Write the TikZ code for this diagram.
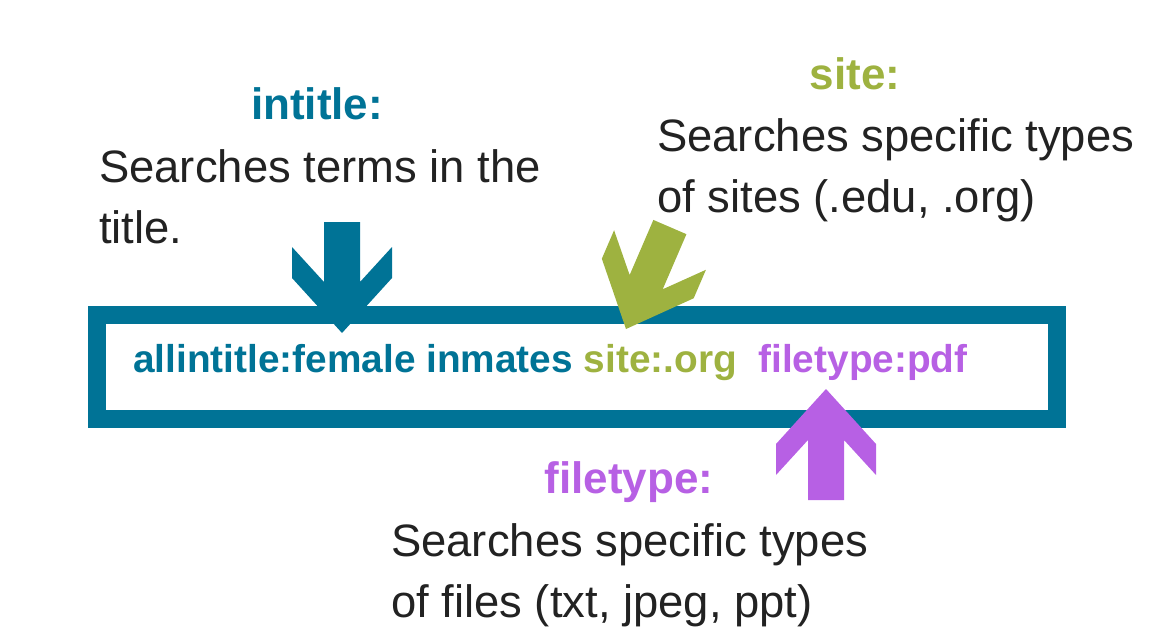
\documentclass[tikz,border=0pt]{standalone}
\usepackage{fontspec}
\setmainfont{Liberation Sans}
\usepackage{tikz}
\usetikzlibrary{
  positioning
}
\definecolor{srchblue}{RGB}{0,115,150}
\definecolor{srchgreen}{RGB}{158,178,64}
\definecolor{srchpurple}{RGB}{183,96,228}
\definecolor{srchgray}{RGB}{34,34,34}
\tikzset{
  opLabel/.style={
    font=\fontsize{44}{53}\selectfont\bfseries,
    inner sep=0pt,
    anchor=base
  },
  opDesc/.style={
    font=\fontsize{45.4}{54}\selectfont,
    text=srchgray,
    inner sep=0pt,
    anchor=base west
  },
  queryText/.style={
    font=\fontsize{38.8}{47}\selectfont\bfseries,
    inner sep=0pt,
    anchor=base west
  },
  queryBox/.style={
    draw=srchblue,
    line width=18pt,
    minimum width=960pt,
    minimum height=103.5pt,
    inner sep=0pt
  },
  blockArrow/.pic={
    \fill[pic actions] (-18,-111) -- (18,-111) -- (18,-51) -- (50,-86)
      -- (50,-55) -- (0,0) -- (-50,-55) -- (-50,-86) -- (-18,-51) -- cycle;
  }
}

\begin{document}
\begin{tikzpicture}[x=1pt, y=-1pt]
  \useasboundingbox (0,0) rectangle (1171,642);

  % search box
  \node[queryBox] (box) at (577,366.75) {};
  \node[queryText] (query) at (133,372)
    {\textcolor{srchblue}{allintitle:female inmates}
    \textcolor{srchgreen}{site:.org}\ \ \textcolor{srchpurple}{filetype:pdf}};

  % intitle
  \node[opLabel, text=srchblue] (intitleLbl) at (317,119) {intitle:};
  \node[opDesc] (intitleDesc) at (99,182) {Searches terms in the};
  \node[opDesc] (intitleDescB) at ([yshift=-61.5pt]intitleDesc.base west)
    {title.};

  % site
  \node[opLabel, text=srchgreen] (siteLbl) at (855,89) {site:};
  \node[opDesc] (siteDesc) at (657,151) {Searches specific types};
  \node[opDesc] (siteDescB) at ([yshift=-61.5pt]siteDesc.base west)
    {of sites (.edu, .org)};

  % filetype
  \node[opLabel, text=srchpurple] (fileLbl) at (629,493) {filetype:};
  \node[opDesc] (fileDesc) at (391,556) {Searches specific types};
  \node[opDesc] (fileDescB) at ([yshift=-61.5pt]fileDesc.base west)
    {of files (txt, jpeg, ppt)};

  % arrows
  \pic[fill=srchblue] (intitleArrow) at (342,333) {blockArrow};
  \pic[fill=srchgreen, rotate=-23.3] (siteArrow) at (626,329) {blockArrow};
  \pic[fill=srchpurple, rotate=180] (fileArrow) at (826,389) {blockArrow};
\end{tikzpicture}
\end{document}
